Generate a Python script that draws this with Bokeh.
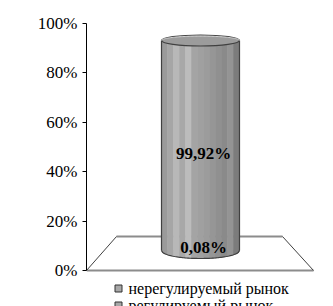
import numpy as np
from bokeh.plotting import figure
from bokeh.models import Range1d, FixedTicker, PrintfTickFormatter
from bokeh.core.properties import value
from bokeh.embed import file_html
from bokeh.resources import INLINE

# ---- data ----
series = ["регулируемый рынок", "нерегулируемый рынок"]
shares = [0.08, 99.92]
y_ticks = [0, 20, 40, 60, 80, 100]

# ---- layout ----
W, H = 333, 306
LEFT = 86
PX_PER_PCT = 2.47
Y0_PX = 270
y_top = Y0_PX / PX_PER_PCT
y_bot = -(H - Y0_PX) / PX_PER_PCT
FONT_NAME = "'Liberation Serif', 'Times New Roman', serif"
FONT = value(FONT_NAME)

p = figure(width=W, height=H, output_backend="svg", toolbar_location=None,
           x_range=Range1d(0, W - LEFT), y_range=Range1d(y_bot, y_top),
           x_axis_location=None, min_border_left=LEFT, min_border_right=0,
           min_border_top=0, min_border_bottom=0)
p.grid.visible = False
p.outline_line_color = None
p.background_fill_color = "white"
p.border_fill_color = "white"

ax = p.yaxis[0]
ax.bounds = (0, 100)
ax.ticker = FixedTicker(ticks=y_ticks)
ax.formatter = PrintfTickFormatter(format="%d%%")
ax.major_label_text_font = FONT_NAME
ax.major_label_text_font_size = "17px"
ax.major_label_text_color = "black"
ax.major_label_standoff = 5
ax.major_tick_out = 4
ax.major_tick_in = 0
ax.minor_tick_line_color = None
ax.axis_line_color = "black"
ax.major_tick_line_color = "black"

# ---- floor (3D base) ----
depth = 34 / PX_PER_PCT
fx = [0, 227, 196, 30]
fy = [0, 0, depth, depth]
p.patch(fx, fy, fill_color="white", line_color=None)
p.line([0, 227], [0, 0], line_color="#8c8c8c", line_width=2)
p.line([30, 196], [depth, depth], line_color="#8c8c8c", line_width=2)
p.line([0, 30], [0, depth], line_color="#404040", line_width=1)
p.line([227, 196], [0, depth], line_color="#404040", line_width=1)

# ---- cylinder ----
cx, a = 114, 39
base = 20 / PX_PER_PCT
scale = (210 / PX_PER_PCT) / 100.0
b_bot = 8 / PX_PER_PCT
b_top = 5.5 / PX_PER_PCT


def cyl_y(v):
    return base + scale * v


strip_colors = ["#9a9a9a", "#a6a6a6", "#b8b8b8", "#a8a8a8", "#bcbcbc", "#a4a4a4",
                "#a0a0a0", "#9c9c9c", "#969696", "#909090", "#8a8a8a", "#949494",
                "#7c7c7c"]
n = len(strip_colors)
edges = np.linspace(cx - a, cx + a, n + 1)

cum = np.concatenate([[0], np.cumsum(shares)])
for i in range(len(shares)):
    y_lo, y_hi = cyl_y(cum[i]), cyl_y(cum[i + 1])
    b = b_bot + (b_top - b_bot) * cum[i] / 100.0
    xs, ys = [], []
    for k in range(n):
        xx = np.linspace(edges[k + 1], edges[k], 6)
        arc = y_lo - b * np.sqrt(np.clip(1 - ((xx - cx) / a) ** 2, 0, 1))
        xs.append([edges[k], edges[k + 1]] + list(xx))
        ys.append([y_hi, y_hi] + list(arc))
    p.patches(xs, ys, fill_color=strip_colors, line_color=strip_colors, line_width=0.6)

y_b, y_t = cyl_y(0), cyl_y(cum[-1])
xx = np.linspace(cx - a, cx + a, 60)
p.line(list(xx), list(y_b - b_bot * np.sqrt(np.clip(1 - ((xx - cx) / a) ** 2, 0, 1))),
       line_color="#404040", line_width=1.2)
p.line([cx - a, cx - a], [y_b, y_t], line_color="#404040", line_width=1.2)
p.line([cx + a, cx + a], [y_b, y_t], line_color="#404040", line_width=1.2)
p.ellipse(x=[cx], y=[y_t], width=[2 * a], height=[2 * b_top],
          fill_color="#9c9c9c", line_color="#404040", line_width=1.2)
p.line(list(xx), list(y_t + b_top * 0.8 * np.sqrt(np.clip(1 - ((xx - cx) / a) ** 2, 0, 1))),
       line_color="#d0d0d0", line_width=1)

# ---- value labels ----
labels = [f"{v:.2f}".replace(".", ",") + "%" for v in shares]
mids = [(cum[i] + cum[i + 1]) / 2 for i in range(len(shares))]
lab_y = [cyl_y(mids[0]) + 1.2, cyl_y(mids[1]) - 3.2]
p.text(x=[cx + 3] * 2, y=lab_y, text=labels, text_font=FONT,
       text_font_style="bold", text_font_size="17px", text_align="center",
       text_baseline="middle", text_color="black")

# ---- legend ----
leg_names = series[::-1]
leg_y = [-18 / PX_PER_PCT, -35 / PX_PER_PCT]
p.scatter(x=[32] * 2, y=leg_y, marker="square", size=7,
          fill_color="#a8a8a8", line_color="#333333", line_width=1)
p.text(x=[42] * 2, y=leg_y, text=leg_names, text_font=FONT,
       text_font_size="16px", text_align="left", text_baseline="middle",
       text_color="black")

open("out.html", "w").write(file_html(p, INLINE))
